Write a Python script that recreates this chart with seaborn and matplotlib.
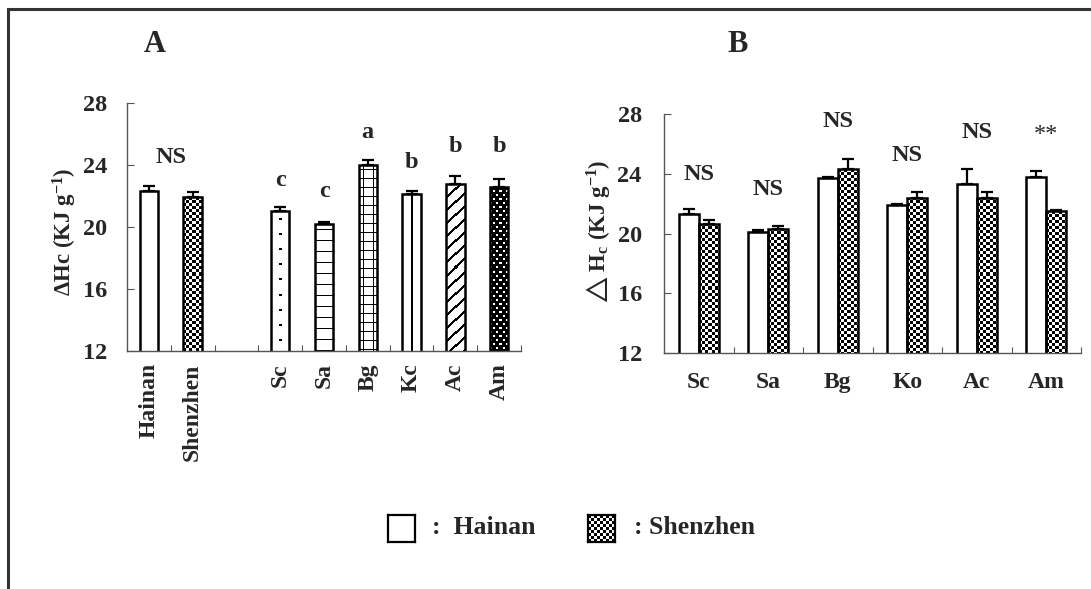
import numpy as np
import pandas as pd
import matplotlib
matplotlib.use("Agg")
import matplotlib.pyplot as plt
import seaborn as sns
from matplotlib.patches import Rectangle

# ---- data ----
# panel A: site means then species means
a_order = ["Hainan", "Shenzhen", " ", "Sc", "Sa", "Bg", "Kc", "Ac", "Am"]
a_labels = ["Hainan", "Shenzhen", "Sc", "Sa", "Bg", "Kc", "Ac", "Am"]
a_means = [22.3, 21.9, 21.0, 20.2, 24.0, 22.1, 22.8, 22.6]
a_err = [0.37, 0.32, 0.26, 0.10, 0.32, 0.19, 0.51, 0.51]
a_fill = ["white", "checker", "dots", "hlines", "grid", "vline", "diag", "blackdots"]
a_letters = ["c", "c", "a", "b", "b", "b"]
a_letter_y = [23.0, 22.3, 26.1, 24.15, 25.2, 25.2]
a_ns_y = 24.5

# panel B: species x site
b_species = ["Sc", "Sa", "Bg", "Ko", "Ac", "Am"]
b_hainan = [21.33, 20.09, 23.71, 21.93, 23.29, 23.76]
b_hainan_err = [0.33, 0.15, 0.07, 0.07, 1.02, 0.44]
b_shenzhen = [20.64, 20.33, 24.31, 22.40, 22.40, 21.49]
b_shenzhen_err = [0.29, 0.20, 0.69, 0.38, 0.36, 0.07]
b_marks = ["NS", "NS", "NS", "NS", "NS", "**"]
b_mark_y = [23.93, 22.93, 27.47, 25.2, 26.73, 26.6]

sites = ["Hainan", "Shenzhen"]
yticks = [12, 16, 20, 24, 28]

sns.set_style("white")
plt.rcParams['font.family'] = ['Liberation Serif', 'DejaVu Serif']
plt.rcParams['font.weight'] = 'bold'
plt.rcParams['mathtext.fontset'] = 'custom'
plt.rcParams['mathtext.rm'] = 'Liberation Serif:bold'
plt.rcParams['mathtext.bf'] = 'Liberation Serif:bold'
plt.rcParams['mathtext.default'] = 'bf'
plt.rcParams['mathtext.fallback'] = 'stix'

W, H = 1091, 589
fig = plt.figure(figsize=(W / 100, H / 100), dpi=100)


def pattern(kind, ny, nx):
    i, j = np.indices((ny, nx))
    arr = np.ones((ny, nx))
    if kind == "checker":
        arr = ((i // 3 + j // 3) % 2).astype(float)
    elif kind == "dots":
        arr[(i % 15 >= 7) & (i % 15 < 9) & ((j == nx // 2) | (j == nx // 2 - 1))] = 0
    elif kind == "hlines":
        arr[i % 11 == 5] = 0
    elif kind == "grid":
        arr[(i % 9 == 4) | (j % 9 == 4)] = 0
    elif kind == "vline":
        arr[:, nx // 2] = 0
    elif kind == "diag":
        arr[(i + j) % 13 < 3] = 0
    elif kind == "blackdots":
        arr[:] = 0
        arr[((i % 8 < 2) & (j % 6 < 2)) | ((i % 8 >= 4) & (i % 8 < 6) & (j % 6 >= 3) & (j % 6 < 5))] = 1
    return arr


def fill_bar(ax, patch, kind):
    if kind == "white":
        return
    x0, w, top = patch.get_x(), patch.get_width(), patch.get_height()
    y0 = ax.get_ylim()[0]
    p0 = ax.transData.transform((x0, y0))
    p1 = ax.transData.transform((x0 + w, top))
    nx = max(1, int(round(p1[0] - p0[0])))
    ny = max(1, int(round(p1[1] - p0[1])))
    im = ax.imshow(pattern(kind, ny, nx), cmap="gray", vmin=0, vmax=1,
                   extent=(x0, x0 + w, y0, top), interpolation="nearest",
                   aspect="auto", zorder=patch.get_zorder() - 0.1)
    im.set_clip_path(patch)
    patch.set_facecolor("none")


def style_axes(ax, xlim):
    ax.set_ylim(12, 28)
    ax.set_xlim(*xlim)
    ax.set_yticks(yticks)
    ax.set_xticks(np.arange(xlim[0] + 1, xlim[1] + 0.01), minor=True)
    sns.despine(ax=ax)
    for s in ["left", "bottom"]:
        ax.spines[s].set_color("#555555")
        ax.spines[s].set_linewidth(1.0)
    ax.tick_params(axis="y", direction="in", length=5, width=0.8, color="#555555",
                   labelsize=17.5, pad=14, left=True)
    ax.tick_params(axis="x", which="major", length=0)
    ax.tick_params(axis="x", which="minor", direction="in", length=4, width=0.8,
                   color="#555555", bottom=True)
    ax.set_xlabel("")


# ---------------- panel A ----------------
axA = fig.add_axes([127 / W, 1 - 350.7 / H, 394 / W, 247.7 / H])
dfA = pd.DataFrame({"group": a_labels, "value": a_means})
sns.barplot(data=dfA, x="group", y="value", order=a_order, color="white",
            saturation=1, width=0.42, edgecolor="black", linewidth=1.8,
            errorbar=None, ax=axA)
style_axes(axA, (-0.5, 8.5))
axA.set_xticks(range(len(a_order)))
axA.set_xticklabels(a_order, rotation=90, fontsize=17, fontweight="bold")
axA.tick_params(axis="x", which="major", pad=9)
axA.set_ylabel("\u0394Hc (KJ g$^{-1}$)", fontsize=16.5, fontweight="bold")
axA.yaxis.set_label_coords(-0.122, 0.48)

barsA = sorted(axA.patches, key=lambda p: p.get_x())
xA = [p.get_x() + p.get_width() / 2 for p in barsA]
for p, kind in zip(barsA, a_fill):
    fill_bar(axA, p, kind)
axA.errorbar(xA, a_means, yerr=[np.zeros(len(a_err)), a_err], fmt="none",
             ecolor="black", elinewidth=1.6, capsize=4, capthick=1.6, zorder=1)
axA.text((xA[0] + xA[1]) / 2, a_ns_y, "NS", ha="center", va="center",
         fontsize=17.5, fontweight="bold")
for x, t, y in zip(xA[2:], a_letters, a_letter_y):
    axA.text(x, y, t, ha="center", va="center", fontsize=17.5, fontweight="bold")
axA.set_xlim(-0.5, 8.5)
axA.set_ylim(12, 28)

# ---------------- panel B ----------------
axB = fig.add_axes([664 / W, 1 - 353 / H, 417 / W, 239 / H])
dfB = pd.DataFrame({
    "species": b_species * 2,
    "site": [sites[0]] * len(b_species) + [sites[1]] * len(b_species),
    "value": b_hainan + b_shenzhen,
})
sns.barplot(data=dfB, x="species", y="value", hue="site", hue_order=sites,
            order=b_species, palette=["white", "white"], saturation=1,
            width=0.58, gap=0, edgecolor="black", linewidth=1.8,
            errorbar=None, legend=False, ax=axB)
style_axes(axB, (-0.5, 5.5))
axB.set_xticks(range(len(b_species)))
axB.set_xticklabels(b_species, fontsize=17, fontweight="bold")
axB.tick_params(axis="x", which="major", pad=14)
axB.tick_params(axis="y", pad=16)
axB.set_ylabel(r"$\triangle$H$_{c}$ (KJ g$^{-1}$)", fontsize=16.5, fontweight="bold")
axB.yaxis.set_label_coords(-0.125, 0.5)

for cont, kind, vals, errs in zip(axB.containers, ["white", "checker"],
                                  [b_hainan, b_shenzhen],
                                  [b_hainan_err, b_shenzhen_err]):
    xs = [p.get_x() + p.get_width() / 2 for p in cont]
    for p in cont:
        fill_bar(axB, p, kind)
    axB.errorbar(xs, vals, yerr=[np.zeros(len(errs)), errs], fmt="none",
                 ecolor="black", elinewidth=1.6, capsize=4, capthick=1.6, zorder=1)
for k, (t, y) in enumerate(zip(b_marks, b_mark_y)):
    axB.text(k, y, t, ha="center", va="center", fontsize=17.5,
             fontweight="bold" if t == "NS" else "normal")
axB.set_xlim(-0.5, 5.5)
axB.set_ylim(12, 28)

# ---------------- panel titles ----------------
fig.text(155 / W, 1 - 45 / H, "A", ha="center", va="center", fontsize=22, fontweight="bold")
fig.text(738 / W, 1 - 45 / H, "B", ha="center", va="center", fontsize=22, fontweight="bold")

# ---------------- legend ----------------
for k, (x0, kind) in enumerate([(388, "white"), (588, "checker")]):
    lax = fig.add_axes([x0 / W, 1 - 542 / H, 27 / W, 27 / H])
    lax.imshow(pattern(kind, 27, 27), cmap="gray", vmin=0, vmax=1,
               interpolation="nearest", aspect="auto")
    lax.set_xticks([])
    lax.set_yticks([])
    for s in lax.spines.values():
        s.set_visible(True)
        s.set_color("black")
        s.set_linewidth(1.6)
fig.text(432 / W, 1 - 527 / H, ":  Hainan", ha="left", va="center",
         fontsize=18.5, fontweight="bold")
fig.text(634 / W, 1 - 527 / H, ": Shenzhen", ha="left", va="center",
         fontsize=18.5, fontweight="bold")

# outer frame (cut off at right and bottom like the original scan)
fig.patches.append(Rectangle((7.5 / W, -0.1), 1.2, 1.1 - 9.5 / H, transform=fig.transFigure,
                             fill=False, edgecolor="#333333", linewidth=2.2))

fig.savefig("out.png", dpi=100)
plt.close(fig)
